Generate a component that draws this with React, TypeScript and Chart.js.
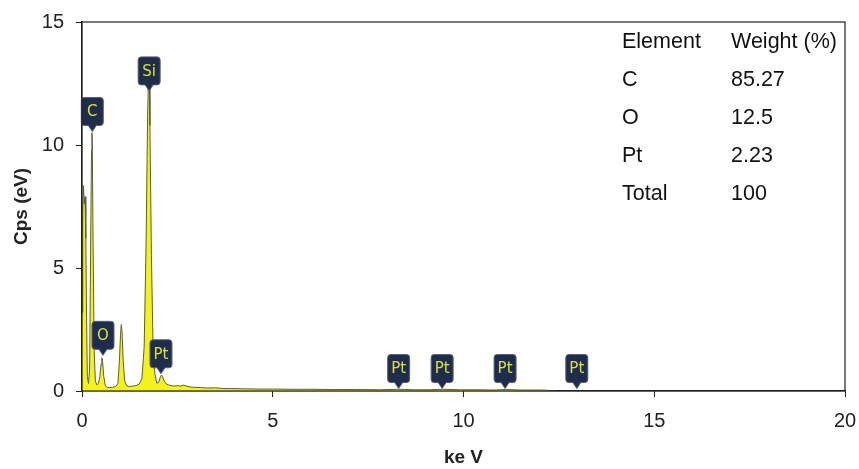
import React, { useEffect, useRef } from "react";
import { Chart, registerables } from "chart.js";

Chart.register(...registerables);

// EDS spectrum (energy in keV, counts in cps)
const energyKeV = [
  0.0, 0.02, 0.04, 0.06, 0.08, 0.1, 0.12, 0.14, 0.17, 0.2, 0.23, 0.25, 0.26, 0.27, 0.29, 0.32,
  0.35, 0.39, 0.43, 0.47, 0.5, 0.52, 0.54, 0.57, 0.61, 0.66, 0.72, 0.8, 0.88, 0.94, 0.98, 1.01,
  1.03, 1.05, 1.08, 1.12, 1.17, 1.24, 1.32, 1.42, 1.5, 1.57, 1.63, 1.68, 1.72, 1.75, 1.76, 1.78,
  1.82, 1.86, 1.91, 1.96, 2.01, 2.05, 2.08, 2.11, 2.15, 2.2, 2.26, 2.33, 2.42, 2.5, 2.58, 2.66,
  2.75, 2.85, 2.95, 3.1, 3.3, 3.5, 3.7, 3.9, 4.2, 4.6, 5.0, 5.5, 6.0, 6.6, 7.2, 7.8, 8.3, 8.7,
  9.1, 9.45, 9.9, 10.4, 10.8, 11.1, 11.5, 11.9, 12.2, 12.4
];
const countsCps = [
  3.2, 7.4, 8.35, 7.6, 7.9, 6.2, 3.0, 0.6, 0.3, 0.9, 6.5, 9.8, 10.5, 10.1, 6.0, 1.6,
  0.4, 0.25, 0.3, 0.6, 1.1, 1.35, 1.2, 0.6, 0.22, 0.15, 0.14, 0.15, 0.18, 0.3, 1.2, 2.3,
  2.7, 2.4, 1.2, 0.4, 0.22, 0.18, 0.2, 0.22, 0.28, 0.5, 1.8, 6.0, 11.2, 13.2, 13.0, 10.8,
  5.5, 2.0, 0.7, 0.32, 0.35, 0.55, 0.65, 0.6, 0.42, 0.3, 0.25, 0.22, 0.2, 0.22, 0.2, 0.24,
  0.2, 0.16, 0.15, 0.14, 0.12, 0.13, 0.1, 0.1, 0.09, 0.08, 0.08, 0.07, 0.07, 0.06, 0.06, 0.05, 0.07, 0.05,
  0.05, 0.07, 0.05, 0.05, 0.04, 0.06, 0.04, 0.04, 0.03, 0.0
];

// Element markers
const markerLabels = ["C", "O", "Si", "Pt", "Pt", "Pt", "Pt", "Pt"];
const markerEnergy = [0.27, 0.55, 1.76, 2.07, 8.3, 9.44, 11.09, 12.97];
const markerTip = [10.55, 1.45, 12.2, 0.7, 0.1, 0.1, 0.1, 0.1];

// Table
const tableHeader = ["Element", "Weight (%)"];
const tableElements = ["C", "O", "Pt", "Total"];
const tableWeights = ["85.27", "12.5", "2.23", "100"];

const FONT = "'Liberation Sans', Arial, sans-serif";

const markerPlugin = {
  id: "markers",
  afterDatasetsDraw(chart: any) {
    const { ctx, scales } = chart;
    const xs = scales.x;
    const ys = scales.y;
    ctx.save();
    markerLabels.forEach((lab, i) => {
      const px = xs.getPixelForValue(markerEnergy[i]);
      const tip = ys.getPixelForValue(markerTip[i]);
      const w = 22;
      const h = 28;
      const ph = 6;
      const bottom = tip - ph;
      const left = px - w / 2;
      const top = bottom - h;
      const r = 3;
      ctx.beginPath();
      ctx.moveTo(left + r, top);
      ctx.lineTo(left + w - r, top);
      ctx.quadraticCurveTo(left + w, top, left + w, top + r);
      ctx.lineTo(left + w, bottom - r);
      ctx.quadraticCurveTo(left + w, bottom, left + w - r, bottom);
      ctx.lineTo(px + 4, bottom);
      ctx.lineTo(px, tip);
      ctx.lineTo(px - 4, bottom);
      ctx.lineTo(left + r, bottom);
      ctx.quadraticCurveTo(left, bottom, left, bottom - r);
      ctx.lineTo(left, top + r);
      ctx.quadraticCurveTo(left, top, left + r, top);
      ctx.closePath();
      ctx.fillStyle = "#1f2c4c";
      ctx.fill();
      ctx.strokeStyle = "#55617a";
      ctx.lineWidth = 1;
      ctx.stroke();
      ctx.fillStyle = "#d6e23c";
      ctx.font = `15px 'DejaVu Sans', sans-serif`;
      ctx.textAlign = "center";
      ctx.textBaseline = "middle";
      ctx.fillText(lab, px, top + h / 2 + 1);
    });
    ctx.restore();
  },
  afterDraw(chart: any) {
    const { ctx, chartArea } = chart;
    ctx.save();
    // box frame
    ctx.strokeStyle = "#222";
    ctx.lineWidth = 1.2;
    ctx.strokeRect(chartArea.left, chartArea.top, chartArea.right - chartArea.left, chartArea.bottom - chartArea.top);
    // table
    ctx.fillStyle = "#111";
    ctx.font = `21.5px ${FONT}`;
    ctx.textAlign = "left";
    ctx.textBaseline = "middle";
    const c1 = 622;
    const c2 = 731;
    const y0 = 42;
    const dy = 38;
    ctx.fillText(tableHeader[0], c1, y0);
    ctx.fillText(tableHeader[1], c2, y0);
    tableElements.forEach((el, i) => {
      ctx.fillText(el, c1, y0 + dy * (i + 1));
      ctx.fillText(tableWeights[i], c2, y0 + dy * (i + 1));
    });
    ctx.restore();
  },
};

export default function App() {
  const ref = useRef<HTMLCanvasElement>(null);
  useEffect(() => {
    document.body.style.margin = "0";
    const canvas = ref.current;
    if (!canvas) return;
    const data = energyKeV.map((e, i) => ({ x: e, y: countsCps[i] }));
    const chart = new Chart(canvas, {
      type: "line",
      data: {
        datasets: [
          {
            data,
            fill: "origin",
            backgroundColor: "#f3f31a",
            borderColor: "#5a5e3c",
            borderWidth: 1,
            pointRadius: 0,
            tension: 0,
          },
        ],
      },
      options: {
        animation: false,
        responsive: false,
        devicePixelRatio: 1,
        layout: { padding: { top: 22, right: 14, left: 0, bottom: 0 } },
        plugins: { legend: { display: false }, tooltip: { enabled: false } },
        scales: {
          x: {
            type: "linear",
            min: 0,
            max: 20,
            afterFit: (s: any) => {
              s.height = 78;
              s.paddingLeft = 0;
              s.paddingRight = 0;
            },
            ticks: { stepSize: 5, color: "#222", padding: 12, font: { family: FONT, size: 20 } },
            grid: { drawOnChartArea: false, drawTicks: true, tickLength: 6, color: "#222" },
            border: { display: true, color: "#222", width: 1.2 },
            title: {
              display: true,
              text: "ke V",
              color: "#222",
              font: { family: FONT, size: 19, weight: "bold" },
              padding: { top: 0, bottom: 0 },
            },
          },
          y: {
            type: "linear",
            min: 0,
            max: 15,
            afterFit: (s: any) => {
              s.width = 82;
              s.paddingTop = 0;
              s.paddingBottom = 0;
            },
            ticks: { stepSize: 5, color: "#222", padding: 12, font: { family: FONT, size: 20 } },
            grid: { drawOnChartArea: false, drawTicks: true, tickLength: 6, color: "#222" },
            border: { display: true, color: "#222", width: 1.2 },
            title: {
              display: true,
              text: "Cps (eV)",
              color: "#222",
              font: { family: FONT, size: 19, weight: "bold" },
              padding: { top: 10, bottom: 0 },
            },
          },
        },
      },
      plugins: [markerPlugin],
    });
    return () => chart.destroy();
  }, []);
  return (
    <div style={{ width: 859, height: 469, position: "relative" }}>
      <canvas ref={ref} width={859} height={469} style={{ display: "block" }} />
    </div>
  );
}
